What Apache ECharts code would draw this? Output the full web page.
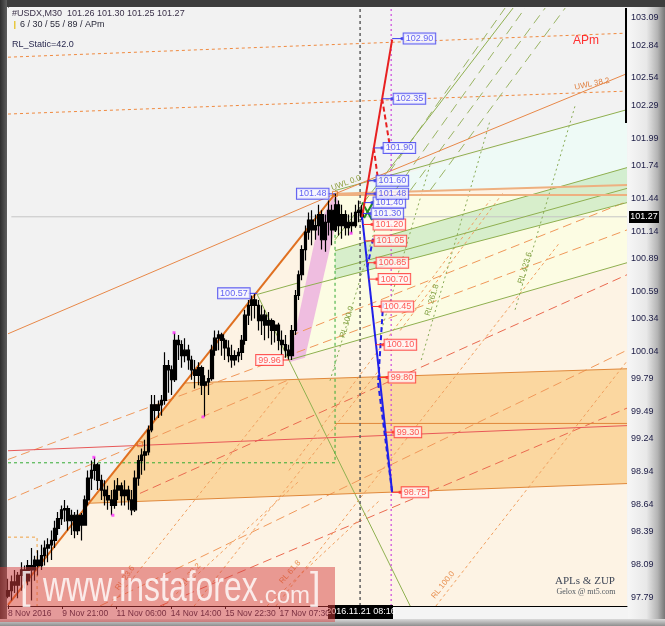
<!DOCTYPE html>
<html><head><meta charset="utf-8">
<script src="https://cdn.jsdelivr.net/npm/echarts@6/dist/echarts.min.js"></script>
<style>
html,body{margin:0;padding:0;background:#f4f4f4;width:665px;height:626px;overflow:hidden}
.f{position:absolute}
#c{position:absolute;left:0;top:0;width:665px;height:626px}
</style>
</head><body>
<div class="f" style="left:0;top:0;width:665px;height:7px;background:#3d3d3d"></div>
<div class="f" style="left:0;top:0;width:7px;height:626px;background:linear-gradient(to right,#2e2e2e,#5e5e5e)"></div>
<div class="f" style="left:628px;top:7px;width:37px;height:612px;background:linear-gradient(to right,#f6f6f6 0%,#e8e8e8 50%,#b4b4b4 80%,#767676 100%)"></div>
<div class="f" style="left:0;top:619px;width:665px;height:7px;background:linear-gradient(#dadada,#8e8e8e)"></div>
<div id="c"></div>
<script>
const FONT = 'Liberation Sans, Arial, sans-serif';
const xMax = 185.3, yMin = 97.71, yMax = 103.18;

// x axis: index of 2-hour candle
const xTickPos = [0, 16.25, 32.5, 48.75, 65, 81.25];
const xTickText = ['8 Nov 2016', '9 Nov 21:00', '11 Nov 06:00', '14 Nov 14:00', '15 Nov 22:30', '17 Nov 07:30'];
const yTicks = [103.09,102.84,102.54,102.29,101.99,101.74,101.44,101.14,100.89,100.59,100.34,100.04,99.79,99.49,99.24,98.94,98.64,98.39,98.09,97.79];

// candles: [open, close, low, high]
const candles = [
[97.80,97.85,97.78,97.96],[97.85,97.93,97.76,97.99],[97.93,97.90,97.83,98.04],[97.90,97.99,97.78,98.02],
[97.99,98.04,97.85,98.11],[98.04,97.94,97.87,98.08],[97.94,98.08,97.90,98.13],[98.08,98.04,97.76,98.24],
[98.04,98.13,97.94,98.17],[98.13,98.08,97.99,98.22],[98.08,98.17,98.04,98.27],[98.17,98.24,98.08,98.31],
[98.24,98.27,98.11,98.33],[98.27,98.31,98.13,98.40],[98.31,98.42,98.24,98.49],[98.42,98.51,98.36,98.57],
[98.51,98.59,98.45,98.63],[98.59,98.60,98.48,98.68],[98.60,98.49,98.40,98.63],[98.49,98.54,98.36,98.59],
[98.54,98.40,98.33,98.57],[98.40,98.54,98.36,98.59],[98.54,98.45,98.31,98.56],[98.45,98.68,98.45,98.72],
[98.68,98.88,98.63,98.95],[98.88,98.95,98.77,99.04],[98.95,99.00,98.86,99.07],[99.00,98.86,98.77,99.02],
[98.86,98.77,98.68,98.91],[98.77,98.72,98.63,98.86],[98.72,98.68,98.59,98.81],[98.68,98.63,98.54,98.77],
[98.63,98.77,98.60,98.86],[98.77,98.81,98.68,98.88],[98.81,98.72,98.63,98.84],[98.72,98.77,98.63,98.86],
[98.77,98.68,98.59,98.81],[98.68,98.59,98.54,98.77],[98.59,98.88,98.57,98.95],[98.88,99.04,98.81,99.09],
[99.04,99.09,98.91,99.15],[99.09,99.12,98.95,99.23],[99.12,99.32,99.09,99.36],[99.32,99.55,99.30,99.64],
[99.55,99.50,99.41,99.64],[99.50,99.55,99.43,99.59],[99.55,99.59,99.45,99.64],[99.59,99.91,99.55,100.03],
[99.91,99.87,99.66,99.96],[99.87,99.78,99.64,99.91],[99.78,100.14,99.76,100.21],[100.14,100.10,99.96,100.19],
[100.10,100.00,99.89,100.14],[100.00,100.05,99.94,100.16],[100.05,99.96,99.87,100.10],[99.96,99.87,99.78,100.00],
[99.87,99.82,99.70,99.96],[99.82,99.89,99.73,99.94],[99.89,99.73,99.64,99.91],[99.73,99.76,99.44,99.82],
[99.76,99.79,99.64,99.87],[99.79,100.05,99.77,100.10],[100.05,100.16,100.00,100.23],[100.16,100.19,100.05,100.23],
[100.19,100.14,100.00,100.21],[100.14,100.07,99.96,100.16],[100.07,100.00,99.94,100.14],[100.00,99.96,99.89,100.10],
[99.96,100.00,99.91,100.05],[100.00,100.03,99.94,100.07],[100.03,100.14,99.96,100.19],[100.14,100.37,100.10,100.42],
[100.37,100.46,100.28,100.51],[100.46,100.51,100.32,100.55],[100.51,100.46,100.34,100.57],[100.46,100.32,100.23,100.51],
[100.32,100.37,100.19,100.46],[100.37,100.28,100.14,100.42],[100.28,100.32,100.16,100.40],[100.32,100.23,100.10,100.34],
[100.23,100.28,100.12,100.32],[100.28,100.14,100.05,100.30],[100.14,100.10,100.00,100.23],[100.10,100.05,99.98,100.19],
[100.05,100.00,99.96,100.10],[100.00,100.23,99.96,100.28],[100.23,100.55,100.19,100.60],[100.55,100.74,100.51,100.78],
[100.74,100.97,100.69,101.01],[100.97,101.13,100.87,101.19],[101.13,101.24,101.06,101.31],[101.24,101.15,101.01,101.33],
[101.15,101.19,101.06,101.29],[101.19,101.29,101.10,101.38],[101.29,101.06,100.97,101.33],[101.06,101.22,100.95,101.29],
[101.22,101.33,101.10,101.42],[101.33,101.15,101.01,101.38],[101.15,101.38,101.13,101.48],[101.38,101.19,101.10,101.42],
[101.19,101.29,101.07,101.38],[101.29,101.17,101.10,101.33],[101.17,101.22,101.10,101.29],[101.22,101.19,101.12,101.31],
[101.19,101.31,101.17,101.38],[101.31,101.33,101.22,101.42],[101.33,101.27,101.24,101.38]
];

// filled zones [index, price]
const grayZone   = [[0,103.18],[0,97.72],[97.9,101.48],[185.3,102.25],[185.3,103.18]];
const cyanZone   = [[97.9,101.48],[185.3,102.25],[185.3,101.56]];
const yellowZone = [[84.1,99.96],[97.9,101.48],[185.3,101.47],[185.3,100.85]];
const greenZone  = [[97.9,100.96],[185.3,101.72],[185.3,101.40],[97.9,100.70]];
const orangeZone = [[24.2,98.65],[53.0,99.75],[185.3,99.88],[185.3,98.83]];
const pinkZone   = [[84.1,99.94],[88.9,99.98],[99.4,101.38],[97.9,101.48],[92.8,101.19]];

// trend lines
const mainTrend   = [[0,97.72],[97.9,101.48]];
const orangeThin  = [[[0,100.20],[97.9,101.48]], [[97.9,101.48],[185.3,102.58]]];
const orangeFlat  = [[[97.9,101.48],[185.3,101.56]], [[97.9,101.47],[185.3,101.47]]];
const bandEdges   = [[[53.0,99.75],[185.3,99.88]], [[24.2,98.65],[185.3,98.83]], [[97.9,99.38],[185.3,99.38]]];
const redLevel    = [[0,99.13],[185.3,99.36]];
const orangeDots  = [[[0,102.73],[185.3,102.95]], [[0,102.21],[185.3,102.42]]];
const longDash    = [[[0,98.68],[84.1,99.78]], [[84.4,100.18],[185.3,101.41]], [[27.5,97.71],[185.3,100.05]], [[0,99.05],[185.3,101.15]]];
const longDashRed = [[[39.5,98.74],[185.3,100.74]], [[45.5,97.71],[185.3,99.52]]];
const steepDots   = [[[30.8,97.71],[84.4,99.78]], [[55.7,97.71],[111.4,99.88]], [[80.2,97.71],[165.3,101.04]], [[128.1,97.71],[185.3,99.95]],
                     [[84.1,98.95],[144.3,101.42]], [[117.4,100.23],[148.2,101.49]], [[46.4,97.71],[87.4,98.86]], [[77.5,97.71],[111.4,98.68]]];
const greenLines  = [[[97.9,101.51],[185.3,102.25]], [[97.9,100.96],[185.3,101.72]], [[97.9,100.79],[185.3,101.53]], [[87.4,100.62],[185.3,101.40]],
                     [[84.1,99.96],[185.3,100.85]], [[84.1,99.96],[120.4,97.71]], [[97.9,101.06],[151.2,103.18]],
                     [[74.6,100.56],[87.4,100.67]], [[74.6,100.56],[84.1,99.96]]];
const greenDash   = [[[111.4,101.56],[148.8,103.18]], [[115.9,101.51],[154.8,103.18]], [[120.4,101.51],[160.8,103.18]], [[126.3,101.51],[166.8,103.18]]];
const greenDots   = [[[123.7,99.96],[144.3,102.15]], [[151.8,100.42],[169.8,102.29]], [[111.4,100.19],[126.3,101.74]], [[96.4,99.77],[112.9,101.47]]];
const currentLine = [[1,101.27],[185.3,101.27]];
const greenBox    = [[0,99.02],[97.9,99.02],[97.9,101.48]];
const cursorLine  = [[105.4,97.71],[105.4,103.18]];
const futureLine  = [[114.7,97.71],[114.7,103.18]];
const cornerBox   = [[0,98.34],[8.7,98.34],[8.7,97.71]];

// projections
const redPath     = [[106.0,101.27],[115.0,102.89]];
const redDashes   = [[[112.0,102.35],[114.4,101.90]], [[109.5,101.90],[110.8,101.60]]];
const bluePath    = [[106.0,101.27],[115.0,98.75]];
const blueDashes  = [[[109.3,101.07],[107.5,100.80]], [[112.3,100.48],[110.8,99.75]], [[110.8,99.75],[115.0,98.75]]];
const greenZig    = [[[106.0,101.40],[109.0,101.24]], [[106.6,101.26],[109.6,101.42]]];

// price labels: [marker index, price, line index]
const redTargets  = [[109.0,101.20,106.3],[109.3,101.05,106.8],[109.9,100.85,107.5],[110.5,100.70,108.0],[111.4,100.45,108.9],
                     [112.3,100.10,110.1],[113.5,99.80,111.2],[115.3,99.30,113.0],[117.4,98.75,115.0]];
const blueTargets = [[108.4,101.30,106.2],[109.0,101.40,106.7],[109.9,101.48,107.2],[109.9,101.60,107.8],[112.0,101.90,109.5],
                     [115.0,102.35,112.0],[118.0,102.90,115.0]];
// pivot labels: [box left index, price, box right index, pivot index]
const bluePivots  = [[86.5,101.48,95.6,97.9],[62.9,100.57,71.9,74.6]];
const redPivots   = [[74.3,99.96,82.0,84.1]];
const zupDots     = [[25.7,99.07],[31.4,98.54],[49.7,100.21],[58.4,99.44],[102.7,101.12]];
const boxMarks    = [[39.5,99.19],[97.9,101.48]];

function zone(points, color) {
  return { type:'custom', silent:true, z:1, animation:false, data:[[points[0][0], points[0][1]]],
    renderItem: (p, api) => ({ type:'polygon', shape:{ points: points.map(q => api.coord(q)) }, style:{ fill: color } }) };
}
function ln(points, color, width, dash, z) {
  return { type:'line', data: points, symbol:'none', silent:true, animation:false, z: z || 2,
    lineStyle:{ color: color, width: width, type: dash || 'solid' } };
}
function many(list, color, width, dash, z) { return list.map(p => ln(p, color, width, dash, z)); }
function boxLabels(rows, color, bg) {
  return { type:'scatter', silent:true, animation:false, z:12, symbol:'rect', symbolSize:[3,3], itemStyle:{ color: color },
    data: rows.map(r => ({ value:[r[0], r[1]], label:{ formatter: r[1].toFixed(2) } })),
    label:{ show:true, position:'right', distance:0, fontFamily:FONT, fontSize:9, lineHeight:9, color: color,
      borderColor: color, borderWidth:1, backgroundColor: bg, padding:[1,2,0,2] } };
}
function pivotLabels(rows, color, bg) {
  return { type:'scatter', silent:true, animation:false, z:12, symbolSize:0,
    data: rows.map(r => ({ value:[r[0], r[1]], label:{ formatter: r[1].toFixed(2) } })),
    label:{ show:true, position:'right', distance:0, fontFamily:FONT, fontSize:9, lineHeight:9, color: color,
      borderColor: color, borderWidth:1, backgroundColor: bg, padding:[1,2,0,2] } };
}

const BLUE = '#3a3af0', RED = '#ff3030';
const series = [
  zone(grayZone, '#f2f2f2'), zone(cyanZone, '#eefaf6'), zone(yellowZone, '#fcfce3'),
  zone(orangeZone, '#fbd7a0'), zone(greenZone, 'rgba(200,232,192,0.7)'), zone(pinkZone, '#efbde0'),
  ln(currentLine, '#c6c6c6', 1),
  ...many(orangeDots, '#f08a40', 1, [3,3]),
  ...many(longDash, '#f0985a', 1, [9,5]),
  ...many(longDashRed, '#ea6a50', 1, [9,5]),
  ...many(steepDots, '#f0a060', 1, [3,3]),
  ...many(greenDash, '#9ab464', 1, [10,6]),
  ...many(greenDots, '#88aa55', 1, [2,3]),
  ...many(greenLines, '#8fb050', 1),
  ...many(orangeFlat, '#eeb080', 2),
  ...many(bandEdges, '#e0883a', 1),
  ln(redLevel, '#e85858', 1),
  ...many(orangeThin, '#e88848', 1),
  ln(mainTrend, '#e07020', 2, 'solid', 3),
  ln(greenBox, '#33aa33', 1, [3,3]),
  ln(cornerBox, '#f0a040', 1, [3,3]),
  ln(cursorLine, '#606060', 1.5, [3,3], 4),
  ln(futureLine, '#cc44dd', 1.2, [2,3], 4),
  { type:'candlestick', silent:true, animation:false, z:5, barWidth:3,
    data: candles.map((r, i) => [i, r[0], r[1], r[2], r[3]]), encode:{ x:0, y:[1,2,3,4] },
    itemStyle:{ color:'#000', color0:'#000', borderColor:'#000', borderColor0:'#000', borderWidth:1.2 } },
  ...many(greenZig, '#1e8a1e', 2, 'solid', 6),
  ln(redPath, '#e82020', 2, 'solid', 7),
  ...many(redDashes, '#e82020', 2, [5,3], 7),
  ln(bluePath, '#2020e8', 2, 'solid', 7),
  ...many(blueDashes, '#2020e8', 2, [5,3], 7),
  ...redTargets.map(r => ln([[r[2], r[1]], [r[0], r[1]]], RED, 1, 'solid', 8)),
  ...blueTargets.map(r => ln([[r[2], r[1]], [r[0], r[1]]], BLUE, 1, 'solid', 8)),
  ...bluePivots.map(r => ln([[r[2], r[1]], [r[3], r[1]]], BLUE, 1, 'solid', 8)),
  ...redPivots.map(r => ln([[r[2], r[1]], [r[3], r[1]]], RED, 1, 'solid', 8)),
  boxLabels(redTargets, RED, '#fff6f6'),
  boxLabels(blueTargets, BLUE, '#f8f8ff'),
  pivotLabels(bluePivots, BLUE, '#f8f8ff'),
  pivotLabels(redPivots, RED, '#fff6f6'),
  { type:'scatter', silent:true, animation:false, z:9, symbol:'rect', symbolSize:3, itemStyle:{ color:'#ff33ff' }, data: zupDots },
  { type:'scatter', silent:true, animation:false, z:9, symbol:'rect', symbolSize:5,
    itemStyle:{ color:'rgba(0,0,0,0)', borderColor:'#e07020', borderWidth:1 }, data: boxMarks }
];

function txt(text, x, y, color, size, rot, family, extra) {
  return Object.assign({ type:'text', x:x, y:y, rotation: rot || 0, z:20, silent:true,
    style:{ text:text, x:0, y:0, fill:color, font: size + 'px ' + (family || FONT), align:'center', verticalAlign:'middle' } }, extra || {});
}

const chart = echarts.init(document.getElementById('c'), null, { renderer:'canvas' });
chart.setOption({
  backgroundColor:'transparent',
  animation:false,
  grid:{ left:8, right:38, top:8, bottom:20, show:true, backgroundColor:'#fdf3e4', borderWidth:0 },
  xAxis:{ type:'value', min:0, max:xMax, interval:16.25,
    axisLine:{ show:true, lineStyle:{ color:'#000', width:1 } },
    axisTick:{ show:true, length:3, customValues: xTickPos, lineStyle:{ color:'#000' } },
    splitLine:{ show:false },
    axisLabel:{ customValues: xTickPos, align:'left', margin:3, fontFamily:FONT, fontSize:8.5, color:'#1a1a3c',
      formatter: v => { const k = xTickPos.findIndex(p => Math.abs(p - v) < 0.01); return k >= 0 ? xTickText[k] : ''; } } },
  yAxis:{ type:'value', position:'right', min:yMin, max:yMax,
    axisLine:{ show:true, lineStyle:{ color:'#000', width:1 } },
    axisTick:{ show:true, length:3, customValues: yTicks, lineStyle:{ color:'#000' } },
    splitLine:{ show:false },
    axisLabel:{ customValues: yTicks, margin:4, fontFamily:FONT, fontSize:9, color:'#1a1a44', formatter: v => v.toFixed(2) } },
  series: series,
  graphic:[
    { type:'rect', shape:{ x:625, y:8, width:2, height:115 }, style:{ fill:'#000' }, z:30, silent:true },
    { type:'rect', shape:{ x:629, y:211, width:30, height:12 }, style:{ fill:'#000' }, z:30, silent:true },
    { type:'text', x:644, y:217, z:31, silent:true, style:{ text:'101.27', fill:'#fff', font:'9px ' + FONT, align:'center', verticalAlign:'middle' } },
    { type:'rect', shape:{ x:328, y:605, width:65, height:14 }, style:{ fill:'#000' }, z:30, silent:true },
    { type:'text', x:361, y:612, z:31, silent:true, style:{ text:'2016.11.21 08:16', fill:'#fff', font:'9px ' + FONT, align:'center', verticalAlign:'middle' } },
    { type:'text', x:12, y:14, z:20, silent:true, style:{ text:'#USDX,M30  101.26 101.30 101.25 101.27', fill:'#3a3048', font:'9px ' + FONT, verticalAlign:'middle' } },
    { type:'rect', shape:{ x:14, y:21, width:1.5, height:8 }, style:{ fill:'#e8c840' }, z:20, silent:true },
    { type:'text', x:20, y:25, z:20, silent:true, style:{ text:'6 / 30 / 55 / 89 / APm', fill:'#2a2a3a', font:'9px ' + FONT, verticalAlign:'middle' } },
    { type:'text', x:12, y:45, z:20, silent:true, style:{ text:'RL_Static=42.0', fill:'#2a2a50', font:'9px ' + FONT, verticalAlign:'middle' } },
    { type:'text', x:573, y:41, z:20, silent:true, style:{ text:'APm', fill:'#ff3030', font:'12px ' + FONT, verticalAlign:'middle' } },
    txt('UWL 38.2', 592, 84, '#e08040', 8, 0.2),
    txt('UWL 0.0', 346, 183, '#90a040', 8, 0.35),
    txt('RL 100.0', 347, 322, '#80a040', 8, 1.29),
    txt('RL 261.8', 432, 300, '#80a040', 8, 1.29),
    txt('RL 423.6', 525, 268, '#80a040', 8, 1.29),
    txt('RL 100.0', 443, 585, '#e89050', 8, 0.9),
    txt('RL 61.8', 290, 572, '#e89050', 8, 0.85),
    txt('RL 38.2', 190, 575, '#e89050', 8, 0.85),
    txt('RL 23.6', 125, 578, '#e89050', 8, 0.95),
    txt('APLs & ZUP', 585, 581, '#404858', 11, 0, 'Liberation Serif, DejaVu Serif, serif'),
    txt('Gelox @ mt5.com', 586, 592, '#505860', 8, 0, 'Liberation Serif, DejaVu Serif, serif'),
    { type:'rect', shape:{ x:0, y:567, width:335, height:55 }, style:{ fill:'rgba(214,64,64,0.5)' }, z:100, silent:true },
    { type:'text', x:20, y:589, z:101, silent:true, style:{ text:'[', fill:'rgba(255,255,255,0.8)', font:'38px ' + FONT, verticalAlign:'middle' } },
    { type:'text', x:43, y:589, scaleX:0.76, z:101, silent:true, style:{ text:'www.instaforex', fill:'rgba(255,255,255,0.8)', font:'42px ' + FONT, verticalAlign:'middle' } },
    { type:'text', x:258, y:596, z:101, silent:true, style:{ text:'.com', fill:'rgba(255,255,255,0.8)', font:'24px ' + FONT, verticalAlign:'middle' } },
    { type:'text', x:310, y:589, z:101, silent:true, style:{ text:']', fill:'rgba(255,255,255,0.8)', font:'38px ' + FONT, verticalAlign:'middle' } }
  ]
});
</script>
</body></html>
